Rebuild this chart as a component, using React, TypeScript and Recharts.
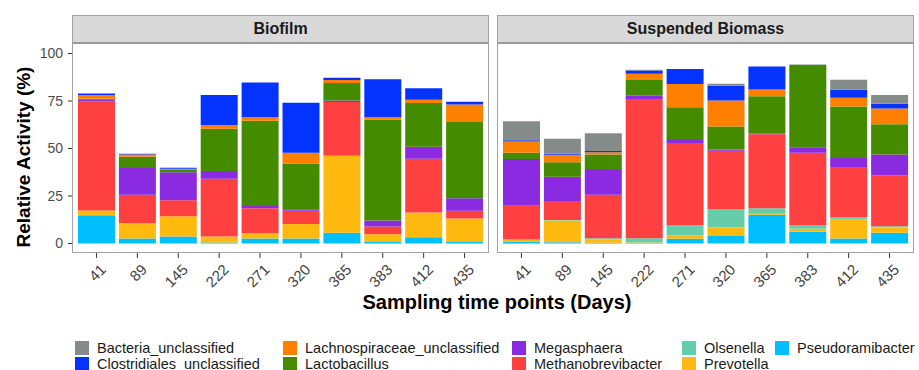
import React from 'react'
import { BarChart, Bar, XAxis, YAxis } from 'recharts'

const days = ['41', '89', '145', '222', '271', '320', '365', '383', '412', '435']
const yTicks = [0, 25, 50, 75, 100]

// Biofilm (values in %)
const bioPseudoramibacter = [14.9, 2.6, 3.7, 0.5, 2.6, 2.6, 5.6, 1.0, 3.3, 1.0]
const bioPrevotella = [2.5, 8.1, 10.7, 3.2, 2.8, 7.7, 40.6, 3.9, 13.0, 12.1]
const bioOlsenella = [0, 0, 0, 0, 0, 0, 0, 0, 0, 0]
const bioMethanobrevibacter = [57.3, 14.9, 8.3, 30.4, 13.2, 7.0, 28.3, 4.0, 28.3, 4.2]
const bioMegasphaera = [1.0, 14.1, 14.8, 4.0, 1.2, 0.7, 0.7, 3.2, 6.3, 6.5]
const bioLactobacillus = [0.5, 6.0, 1.2, 22.3, 44.8, 24.1, 9.3, 53.1, 23.0, 40.1]
const bioLachnospiraceae = [1.8, 1.1, 0.7, 1.8, 1.8, 5.6, 1.6, 1.2, 1.8, 9.3]
const bioClostridiales = [0.9, 0.5, 0.5, 16.0, 18.3, 26.4, 1.2, 20.0, 6.0, 1.4]
const bioBacteria = [0, 0, 0, 0, 0, 0, 0, 0, 0, 0]

// Suspended Biomass (values in %)
const susPseudoramibacter = [1.0, 0.7, 0.4, 0.2, 2.5, 3.9, 15.1, 6.2, 2.6, 5.6]
const susPrevotella = [0.8, 11.4, 1.8, 0.3, 1.9, 4.7, 0.9, 1.6, 10.0, 3.0]
const susOlsenella = [0.5, 0.3, 0.5, 2.3, 5.3, 9.3, 2.5, 1.9, 1.2, 0.5]
const susMethanobrevibacter = [17.6, 10.0, 23.0, 72.8, 43.2, 30.9, 39.0, 38.0, 26.5, 26.7]
const susMegasphaera = [24.6, 12.7, 13.5, 2.1, 1.6, 0.7, 0.3, 3.0, 4.7, 11.1]
const susLactobacillus = [3.2, 7.6, 7.7, 8.4, 17.2, 12.1, 19.7, 43.2, 27.1, 15.8]
const susLachnospiraceae = [6.0, 4.0, 1.1, 3.3, 12.3, 13.7, 3.5, 0, 4.6, 8.3]
const susClostridiales = [0.7, 0.5, 0.7, 1.6, 7.9, 7.7, 12.1, 0, 4.2, 2.5]
const susBacteria = [10.0, 7.9, 9.3, 0.5, 0, 1.1, 0, 0.3, 5.3, 4.7]

// stacking order, bottom first
const taxa = [
    { key: 'Pseudoramibacter', color: '#00BFFF' },
    { key: 'Prevotella', color: '#FFB90F' },
    { key: 'Olsenella', color: '#66CDAA' },
    { key: 'Methanobrevibacter', color: '#FF4040' },
    { key: 'Megasphaera', color: '#8A2BE2' },
    { key: 'Lactobacillus', color: '#458B00' },
    { key: 'Lachnospiraceae_unclassified', color: '#FF7F00' },
    { key: 'Clostridiales_unclassified', color: '#0433FF' },
    { key: 'Bacteria_unclassified', color: '#858B88' },
]

const bioSeries = [bioPseudoramibacter, bioPrevotella, bioOlsenella, bioMethanobrevibacter, bioMegasphaera, bioLactobacillus, bioLachnospiraceae, bioClostridiales, bioBacteria]
const susSeries = [susPseudoramibacter, susPrevotella, susOlsenella, susMethanobrevibacter, susMegasphaera, susLactobacillus, susLachnospiraceae, susClostridiales, susBacteria]

const buildRows = (series: number[][]) =>
    days.map((day, i) => {
        const row: Record<string, string | number> = { day }
        taxa.forEach((t, j) => { row[t.key] = series[j][i] })
        return row
    })

const bioData = buildRows(bioSeries)
const susData = buildRows(susSeries)

// legend columns (ggplot fills column by column)
const legendCols = [
    ['Bacteria_unclassified', 'Clostridiales_unclassified'],
    ['Lachnospiraceae_unclassified', 'Lactobacillus'],
    ['Megasphaera', 'Methanobrevibacter'],
    ['Olsenella', 'Prevotella'],
    ['Pseudoramibacter'],
]
const legendX = [75, 283, 512, 682, 775]

const FONT = '"Liberation Sans", Arial, sans-serif'
const PLOT_TOP = 44
const PLOT_H = 209
const PANEL_W = 417
const BORDER = '#a3a3a3'

const DayTick = (props: any) => {
    const { x, y, payload } = props
    return (
        <g transform={`translate(${x + 3},${y + 3})`}>
            <text textAnchor="end" transform="rotate(-45)" dy="0.71em" fontSize={15} fill="#444" fontFamily={FONT}>
                {payload.value}
            </text>
        </g>
    )
}

function Panel({ data, left, title, showY }: { data: any[]; left: number; title: string; showY: boolean }) {
    const yw = 40
    return (
        <>
            {/* strip */}
            <div style={{
                position: 'absolute', left, top: 15, width: PANEL_W, height: PLOT_TOP - 15,
                background: '#D9D9D9', boxSizing: 'border-box', border: `1px solid ${BORDER}`, borderBottom: '2px solid #9a9a9a',
                display: 'flex', alignItems: 'center', justifyContent: 'center',
                fontFamily: FONT, fontWeight: 'bold', fontSize: 16, color: '#1a1a1a',
            }}>{title}</div>
            <div style={{ position: 'absolute', left: showY ? left - yw - 6 : left, top: PLOT_TOP }}>
                <BarChart
                    width={PANEL_W + (showY ? yw + 6 : 0)}
                    height={PLOT_H + 60}
                    data={data}
                    margin={{ top: 0, right: 0, bottom: 0, left: showY ? 6 : 0 }}
                    barCategoryGap={2}
                    style={{ overflow: 'visible' }}
                >
                    <XAxis
                        dataKey="day"
                        padding={{ left: 4, right: 4 }}
                        height={60}
                        tickSize={5}
                        tickLine={{ stroke: '#333' }}
                        axisLine={false}
                        interval={0}
                        tick={<DayTick />}
                    />
                    <YAxis
                        hide={!showY}
                        width={yw}
                        domain={[-5, 105]}
                        ticks={yTicks}
                        allowDataOverflow
                        axisLine={false}
                        tickSize={4}
                        tickMargin={5}
                        tickLine={{ stroke: '#333' }}
                        tick={{ fontSize: 14, fill: '#4d4d4d', fontFamily: FONT }}
                    />
                    {taxa.map((t) => (
                        <Bar key={t.key} dataKey={t.key} stackId="a" fill={t.color} isAnimationActive={false} />
                    ))}
                </BarChart>
            </div>
            {/* panel border */}
            <div style={{
                position: 'absolute', left, top: PLOT_TOP, width: PANEL_W, height: PLOT_H,
                boxSizing: 'border-box', border: `1px solid ${BORDER}`, borderTop: 'none', pointerEvents: 'none',
            }} />
        </>
    )
}

export default function App() {
    return (
        <div style={{ position: 'absolute', left: 0, top: 0, width: 919, height: 370, background: '#fff', overflow: 'hidden', fontFamily: FONT }}>
            <Panel data={bioData} left={72} title="Biofilm" showY />
            <Panel data={susData} left={497} title="Suspended Biomass" showY={false} />

            {/* y-axis title */}
            <div style={{
                position: 'absolute', left: 24, top: 157, transform: 'translate(-50%, -50%) rotate(-90deg)',
                whiteSpace: 'nowrap', fontWeight: 'bold', fontSize: 19, color: '#000',
            }}>Relative Activity (%)</div>

            {/* x-axis title */}
            <div style={{
                position: 'absolute', left: 497, top: 302, transform: 'translate(-50%, -50%)',
                whiteSpace: 'nowrap', fontWeight: 'bold', fontSize: 20, color: '#000',
            }}>Sampling time points (Days)</div>

            {/* legend */}
            {legendCols.map((col, ci) => col.map((name, ri) => {
                const t = taxa.find((tx) => tx.key === name)!
                return (
                    <div key={name} style={{ position: 'absolute', left: legendX[ci], top: 339 + ri * 16, display: 'flex', alignItems: 'center', height: 17 }}>
                        <div style={{ width: 14, height: 14, background: t.color, marginRight: 8 }} />
                        <span style={{ fontSize: 14.5, color: '#1a1a1a', whiteSpace: 'nowrap' }}>{name}</span>
                    </div>
                )
            }))}
        </div>
    )
}
